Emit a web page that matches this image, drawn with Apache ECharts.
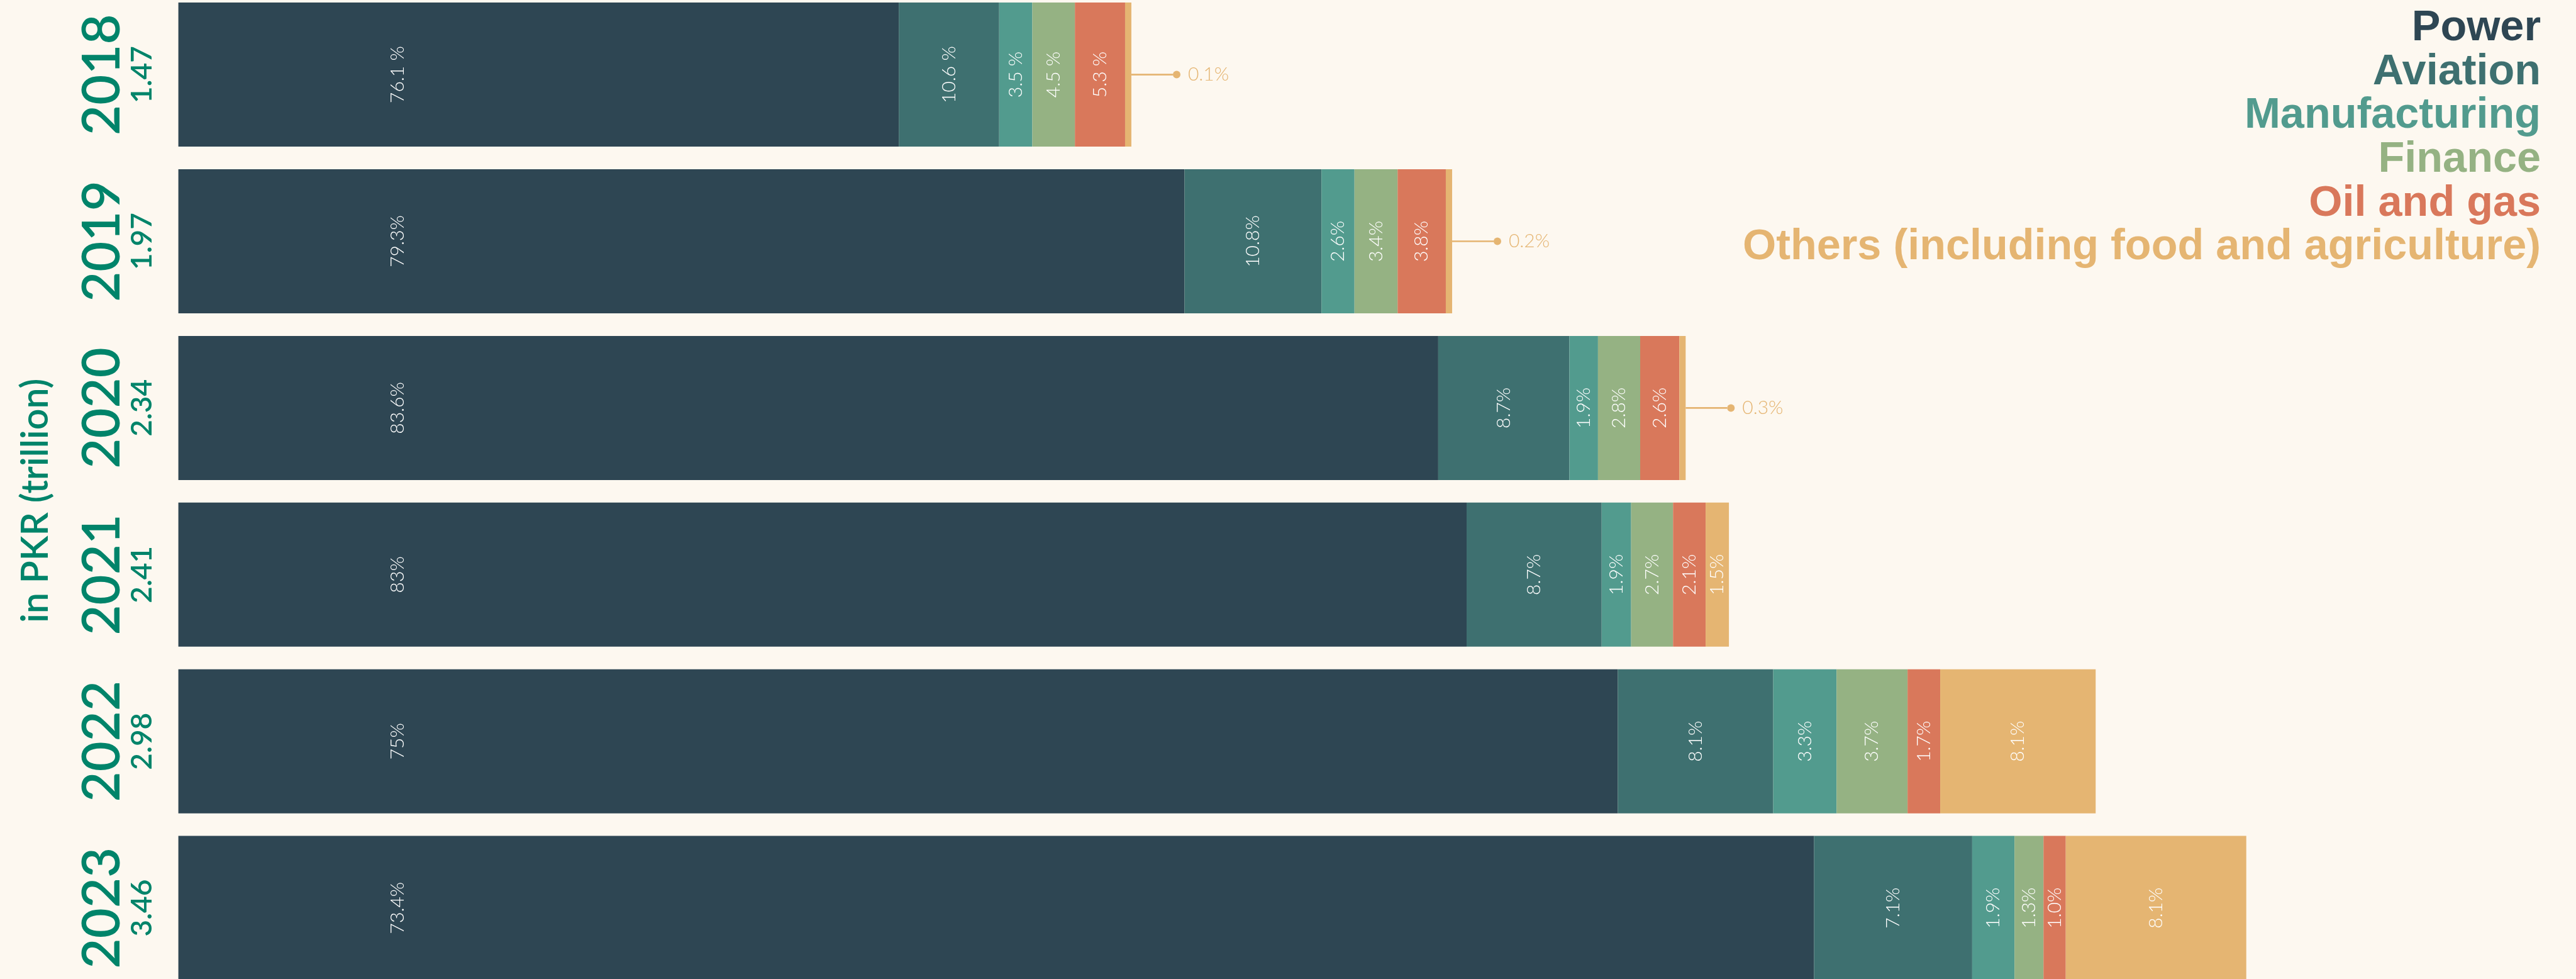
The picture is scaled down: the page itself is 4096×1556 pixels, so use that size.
<!DOCTYPE html>
<html>
<head>
<meta charset="utf-8">
<title>Lending by sector, 2018–2023</title>
<script src="https://cdn.jsdelivr.net/npm/echarts@6/dist/echarts.min.js"></script>
<style>
  html, body { margin: 0; padding: 0; background: #fdf8f0; }
  #chart { width: 4096px; height: 1556px; }
</style>
</head>
<body>
<div id="chart"></div>
<script>
// Years and yearly totals (PKR trillion)
const years = ['2018', '2019', '2020', '2021', '2022', '2023'];
const totals = [1.47, 1.97, 2.34, 2.41, 2.98, 3.46];

// Sector names, in stacking order
const sectors = ['Power', 'Aviation', 'Manufacturing', 'Finance', 'Oil and gas',
  'Others (including food and agriculture)'];

// Share of each year's total, in percent
const power         = [76.1, 79.3, 83.6, 83, 75, 73.4];
const aviation      = [10.6, 10.8, 8.7, 8.7, 8.1, 7.1];
const manufacturing = [3.5, 2.6, 1.9, 1.9, 3.3, 1.9];
const finance       = [4.5, 3.4, 2.8, 2.7, 3.7, 1.3];
const oilGas        = [5.3, 3.8, 2.6, 2.1, 1.7, 1.0];
const others        = [0.1, 0.2, 0.3, 1.5, 8.1, 8.1];

// Separator printed between number and percent sign, per year
const pctSep = [' ', '', '', '', '', ''];

const shares = [power, aviation, manufacturing, finance, oilGas, others];
const colors = ['#2e4653', '#3e7070', '#529b8e', '#95b283', '#d9785b', '#e5b572'];
const green = '#00846a';
const bg = '#fdf8f0';

function pctText(v) {
  return (v >= 10 && Number.isInteger(v)) ? String(v) : v.toFixed(1);
}

const series = sectors.map((name, s) => ({
  name: name,
  type: 'bar',
  stack: 'total',
  barWidth: 229,
  barMinHeight: s === sectors.length - 1 ? 10 : 0,
  itemStyle: { color: colors[s] },
  emphasis: { disabled: true },
  label: {
    show: true,
    position: s === 0 ? [349, '50%'] : 'inside',
    rotate: 90,
    align: 'center',
    verticalAlign: 'middle',
    color: '#ffffff',
    fontFamily: 'Lato',
    fontWeight: 300,
    fontSize: 30,
    formatter: p => pctText(shares[s][p.dataIndex]) + pctSep[p.dataIndex] + '%'
  },
  data: shares[s].map((p, i) => {
    const item = { value: totals[i] * p / 100 };
    // tiny slices get a leader line with a dot and an outside label
    if (s === sectors.length - 1 && p < 1) {
      item.label = {
        show: true,
        position: 'right',
        distance: 0,
        rotate: 0,
        align: 'left',
        verticalAlign: 'middle',
        formatter: '{ln|}{dot|}{t|' + pctText(p) + '%}',
        rich: {
          ln: { width: 66, height: 2.6, backgroundColor: colors[s] },
          dot: { width: 12, height: 12, borderRadius: 6, backgroundColor: colors[s] },
          t: { color: colors[s], fontFamily: 'Lato', fontWeight: 300, fontSize: 30,
               padding: [0, 0, 0, 12] }
        }
      };
    }
    return item;
  })
}));

const chart = echarts.init(document.getElementById('chart'), null, { renderer: 'canvas' });
chart.setOption({
  backgroundColor: bg,
  animation: false,
  grid: {
    left: 283.6, top: -13.85, width: 3789, height: 1589.4,
    containLabel: false, outerBoundsMode: 'none'
  },
  xAxis: { type: 'value', min: 0, max: 3.7, show: false },
  yAxis: {
    type: 'category',
    data: years,
    inverse: true,
    axisLine: { show: false },
    axisTick: { show: false },
    splitLine: { show: false },
    axisLabel: {
      interval: 0,
      hideOverlap: false,
      rotate: 90,
      margin: 34,
      formatter: (v, i) => '{yr|' + v + '}\n{tot|' + totals[i].toFixed(2) + '}',
      rich: {
        yr: { fontFamily: 'Lato', fontWeight: 600, fontSize: 83, lineHeight: 80.6,
              color: green, align: 'center' },
        tot: { fontFamily: 'Lato', fontWeight: 600, fontSize: 46, lineHeight: 46,
               color: green, align: 'center' }
      }
    },
    name: 'in PKR (trillion)',
    nameLocation: 'middle',
    nameRotate: 90,
    nameGap: 197,
    nameTextStyle: {
      fontFamily: 'Lato', fontWeight: 600, fontSize: 59, lineHeight: 59,
      color: green, padding: [0, 29.5, 0, 0]
    }
  },
  legend: {
    orient: 'vertical',
    right: 51,
    top: 10.5,
    align: 'right',
    padding: 0,
    itemGap: 0,
    itemWidth: 0,
    itemHeight: 0,
    icon: 'rect',
    selectedMode: false,
    textStyle: { fontFamily: 'Liberation Sans', fontWeight: 'bold', fontSize: 68.4, lineHeight: 69.6 },
    data: sectors.map((n, s) => ({ name: n, textStyle: { color: colors[s] } }))
  },
  series: series
});
</script>
</body>
</html>
